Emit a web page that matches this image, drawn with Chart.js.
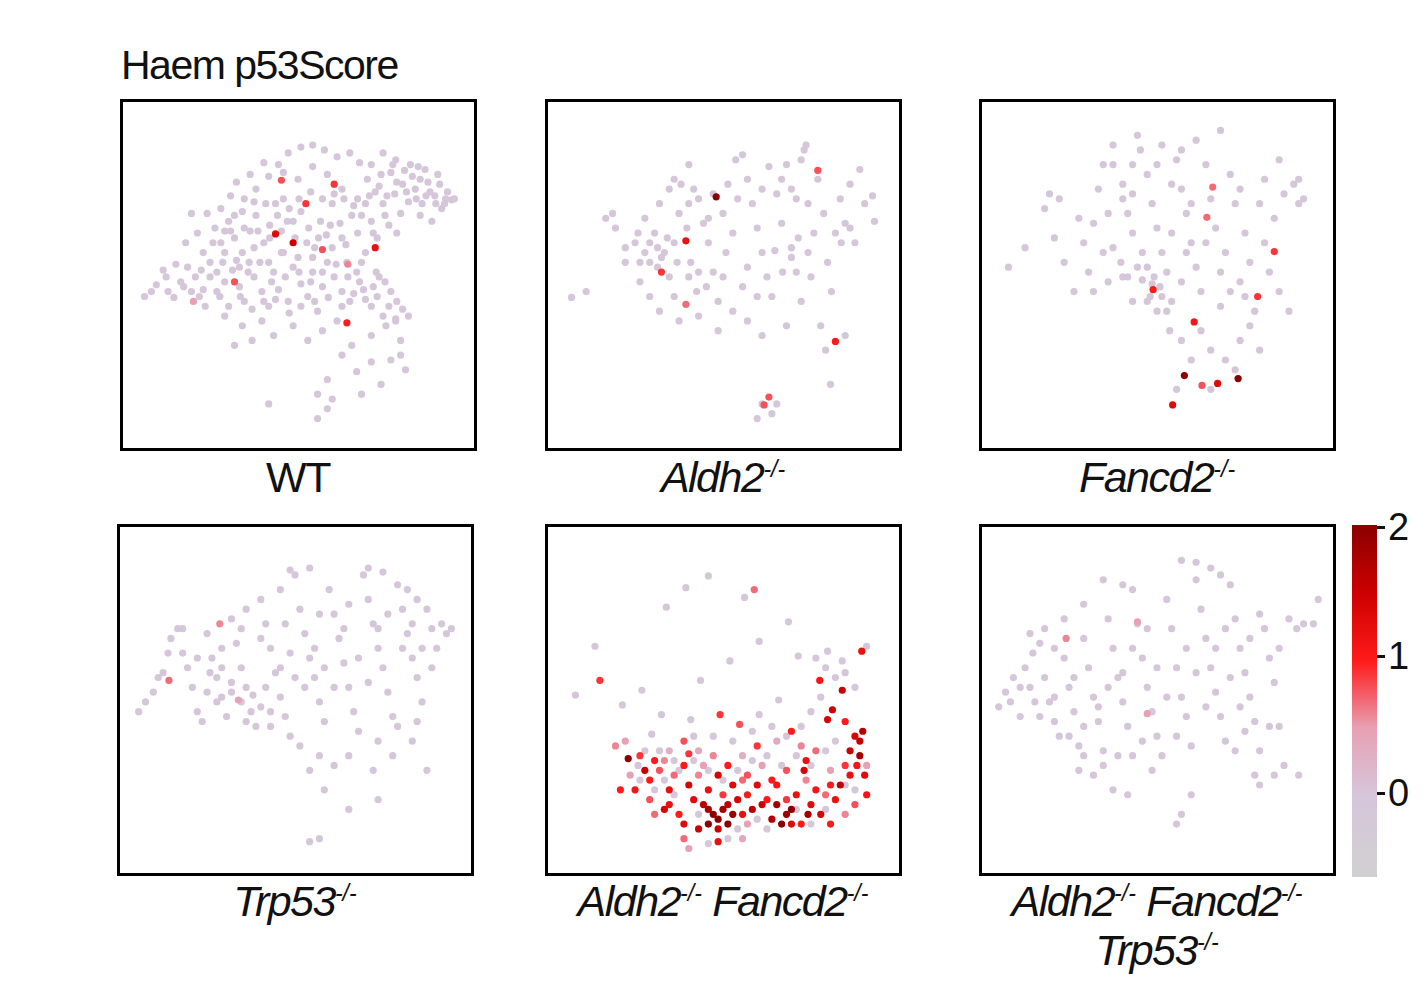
<!DOCTYPE html>
<html>
<head>
<meta charset="utf-8">
<script src="https://cdn.jsdelivr.net/npm/chart.js@4"></script>
<style>
  body { margin: 0; background: #fff; font-family: "Liberation Sans", Arial, sans-serif; }
  #page { position: relative; width: 1426px; height: 984px; }
  .panel { position: absolute; width: 351px; height: 346px; border: 3px solid #000; box-sizing: content-box; }
  .panel canvas { position: absolute; left: 0; top: 0; }
  .lab { position: absolute; width: 500px; text-align: center; font-size: 43px; letter-spacing: -1.5px; color: #111; }
  .lab sup { font-size: 23px; letter-spacing: 0; }
  #title { position: absolute; left: 121px; top: 42px; font-size: 41px; letter-spacing: -1.5px; color: #111; }
  #cbar { position: absolute; left: 1352px; top: 525px; width: 25px; height: 352px; }
  .tick { position: absolute; left: 1377px; font-size: 38px; line-height: 38px; color: #111; }
  .tick::before { content: ""; position: absolute; left: 0; top: 18px; width: 8px; height: 3px; background: #111; }
  .tick span { margin-left: 11px; }
</style>
</head>
<body>
<div id="page">
  <div id="title">Haem p53Score</div>
  <div id="cbar"></div>
  <div class="tick" style="top:508px"><span>2</span></div>
  <div class="tick" style="top:637px"><span>1</span></div>
  <div class="tick" style="top:774px"><span>0</span></div>
</div>
<script>
// ── Data (panel-local UMAP coords, "x,y" or "x,y,score") ──────────
const panelNames = ["WT", "<i>Aldh2<sup>-/-</sup></i>", "<i>Fancd2<sup>-/-</sup></i>",
  "<i>Trp53<sup>-/-</sup></i>", "<i>Aldh2<sup>-/-</sup> Fancd2<sup>-/-</sup></i>",
  "<i>Aldh2<sup>-/-</sup> Fancd2<sup>-/-</sup><br>Trp53<sup>-/-</sup></i>"];

const wtPts = "37,168 42,190 30,183 55,180 62,165 70,175 48,196 85,160 78,188 92,170 95,195 100,150 108,168 115,185 120,200 125,160 130,175 138,190 145,205 150,170 155,188 160,150 165,200 170,165 178,182 185,195 190,170 195,210 200,185 205,160 212,175 220,190 228,200 235,170 242,188 250,205 258,175 262,215 270,190 275,220 282,208 82,110 90,125 96,140 104,118 110,135 118,150 126,128 132,112 140,140 146,122 152,100 158,150 164,118 172,135 178,108 186,125 192,145 198,118 204,132 210,100 218,120 224,142 230,112 236,130 244,150 250,118 256,135 262,100 268,122 274,90 280,110 288,98 295,85 302,100 308,78 315,92 322,105 328,88 332,96 318,70 305,65 292,72 282,80 270,68 258,82 246,75 238,58 228,48 215,52 202,45 190,40 178,42 165,48 155,60 145,72 132,85 120,95 106,92 96,105 112,78 126,70 140,58 160,68 175,75 190,62 205,70 220,85 236,95 250,60 262,48 275,55 290,60 300,112 312,118 325,100 335,95 60,140 72,130 78,150 66,110 50,162 40,175 25,190 18,195 80,205 100,215 118,225 138,220 150,235 170,225 185,240 200,230 215,220 230,245 250,235 265,225 275,218 280,240 270,260 285,270 250,262 235,272 220,255 205,280 195,295 210,300 240,295 260,285 280,255 145,305 110,245 128,240 195,320 205,310 288,215 160,95 175,155 190,155 210,145 225,160 240,160 255,170 145,160 130,145 115,165 100,180 85,175 " +
  "300,75 310,88 320,80 326,95 316,100 306,92 296,95 286,88 276,78 266,92 254,88 244,100 232,102 222,95 212,90 200,95 188,88 176,95 166,105 154,112 142,100 130,98 118,108 106,128 98,160 112,158 124,170 136,160 148,180 162,175 176,170 188,180 200,170 214,162 226,175 238,180 252,185 264,180 276,200 268,205 256,195 244,198 232,192 220,205 206,196 192,200 178,205 166,212 152,198 140,200 128,208 116,195 104,205 92,190 74,195 58,185 298,62 284,66 272,60 260,70 248,92 240,112 252,130 264,112 276,130 220,135 208,122 196,135 184,140 170,118 158,128 146,135 134,128 120,125 110,112 100,128 88,140 76,168 66,190 " +
  "158,76,0.8 152,131,1.3 170,140,1.5 212,80,0.9 183,100,0.9 200,147,0.8 254,145,1.2 225,222,1.0 110,180,0.8 226,162,0.6 68,200,0.5";

const aldhPts = "20,196 35,190 55,115 62,110 75,145 85,140 95,150 100,160 105,130 108,165 115,150 120,175 125,140 130,110 138,125 142,160 148,190 150,95 155,120 160,140 165,170 170,200 175,110 180,80 185,130 188,55 195,50 200,75 205,100 210,125 215,150 220,175 225,195 230,90 235,120 240,60 245,145 250,170 255,200 258,45 262,100 268,130 272,75 278,110 282,160 286,190 290,130 295,95 300,120 305,80 310,140 315,65 320,100 328,92 330,118 260,40 255,55 245,85 132,80 140,60 120,85 110,100 95,115 88,130 100,195 110,210 130,220 150,215 170,230 185,210 200,220 215,235 240,225 275,225 280,250 300,235 285,285 245,155 228,148 222,62 190,95 178,150 160,115 125,195 90,180 75,160 65,125 230,305 225,315 210,320 215,305 125,75 145,85 200,165 265,175 175,175 150,170 " +
  "100,140 108,145 112,155 118,135 128,160 140,175 158,185 195,185 210,195 236,170 252,135 262,150 296,140 305,125 250,95 235,75 215,85 165,90 140,100 90,160 " +
  "168,93,2 137,138,1.2 112,170,0.9 222,298,0.8 217,306,0.8 290,241,1.0 272,66,0.8 137,203,0.7";

const fancPts = "23,165 40,145 65,90 75,95 70,135 80,160 95,115 100,140 105,170 110,190 115,85 120,60 125,110 130,145 138,160 145,175 150,130 155,30 158,45 165,70 170,100 175,125 180,150 185,170 190,200 195,55 200,85 205,110 210,140 215,165 220,190 225,60 230,95 235,125 240,25 245,150 250,70 255,100 260,180 265,130 270,160 275,210 280,100 285,140 290,170 295,115 300,190 305,90 310,210 315,80 320,100 325,95 320,75 140,80 130,60 160,150 165,165 172,175 178,185 168,195 175,210 150,200 140,175 120,150 110,120 150,90 188,230 200,240 220,230 230,250 245,260 260,240 270,225 280,250 210,260 195,290 230,290 255,270 130,40 180,40 200,45 215,35 145,110 190,130 205,150 260,85 285,75 300,55 60,105 125,180 90,190 240,205 " +
  "155,165 160,178 170,182 165,200 180,195 185,210 200,180 225,140 240,170 250,190 265,195 210,100 190,80 175,60 150,60 140,95 " +
  "203,276,2 258,279,2 237,284,1.3 191,306,1.3 221,286,0.8 213,221,1.1 171,188,1.0 278,195,0.9 295,149,0.9 232,83,0.7 226,114,0.7";

const trpPts = "15,185 22,175 30,165 40,145 48,110 55,100 60,125 65,140 70,160 75,185 80,195 85,105 90,130 95,150 100,170 105,190 110,90 115,115 120,140 125,160 130,185 135,200 140,70 145,95 150,120 155,145 160,170 165,190 170,210 175,45 180,80 185,105 190,130 195,150 200,175 205,195 210,60 215,85 220,110 225,135 230,160 235,185 240,205 245,45 250,70 255,95 260,120 265,140 270,165 275,190 280,55 285,80 290,105 295,130 300,150 305,175 310,80 315,100 320,120 325,95 330,105 335,100 170,40 190,38 250,38 265,42 290,60 300,70 60,100 45,125 35,150 180,220 200,230 190,245 215,240 205,265 230,230 260,215 275,230 255,245 280,200 300,195 310,245 295,215 260,275 230,285 200,315 190,318 175,150 140,180 110,165 85,165 100,120 125,80 160,60 150,200 125,195 " +
  "75,130 88,145 100,140 110,155 120,175 132,168 145,160 150,185 160,140 170,125 185,160 195,120 205,140 215,160 225,100 240,130 250,155 260,100 270,85 285,120 295,95 305,120 315,140 230,75 200,85 165,95 140,110 120,100 95,175 " +
  "98,95,0.6 46,153,0.7 117,173,0.5";

const dkoPts = "117,78 137,58 160,46 207,60,0.7 197,68 44,118 24,168 49,153,0.9 72,178 92,163 112,188 152,153 182,133 212,113 242,93 252,128 282,123 297,133 322,118 317,123,1.2 274,153,1.1 297,163,1.5 287,183,1.5 282,193,1.4 232,173 212,188 192,198,0.8 172,188,0.9 142,193 102,208 " +
  "65,220,0.6 78,233,2 95,245,1.5 100,255,1.0 110,245,0.8 120,265,1.2 125,250,0.7 135,240,1.0 140,260,1.4 145,275,1.3 150,250,0.6 155,280,1.6 160,265,1.2 165,290,2 170,295,2 175,285,1.8 180,300,2 185,290,1.9 170,305,1.5 190,275,1.4 195,255,0.7 200,270,1.0 205,285,1.6 210,260,1.3 215,240,0.5 220,275,1.0 225,295,1.7 230,280,1.8 235,300,2 240,290,1.9 245,285,2 250,270,1.2 255,300,1.0 260,255,0.6 265,280,1.3 270,265,1.1 275,290,1.4 280,270,0.7 285,245,0.5 290,275,1.2 295,260,1.6 300,240,0.9 305,225,1.5 310,210,1.4 315,230,1.8 320,250,1.3 322,270,1.1 310,280,0.8 300,290,0.6 270,225,0.7 255,220,0.6 245,205,1.0 230,215,0.4 210,220,0.9 195,230,0.3 180,240,1.0 165,230,0.6 150,225,0.4 135,215,0.8 120,225,0.3 105,235,1.0 90,230,0.9 80,250,0.5 85,265,1.1 100,275,0.8 115,285,1.4 130,290,1.0 135,315,0.7 140,325,0.5 195,315,0.4 170,318,1.2 200,300,0.5 285,300,1.0 260,235,1.2 300,195,1.0 315,215,1.6 322,240,0.5 75,215,0.5 70,265,1.0 155,240,0.5 240,245,0.8 225,255,1.0 185,260,1.3 160,300,2 150,305,1.5 175,270,0.9 " +
  "270,130 280,140 290,150 300,145 310,160 275,170 265,185 255,200 240,210 225,200 205,205 185,215 165,210 145,210 125,235 110,225 95,225 88,240 115,255 130,245 145,235 160,245 175,255 190,245 205,235 220,230 235,240 250,230 265,240 280,225 290,215 300,260 310,265 280,285 265,300 250,285 220,305 210,295 190,305 180,315 160,320 150,290 125,270 105,265 90,255 " +
  "115,235,0.6 140,228,0.9 170,250,1.4 200,250,0.8 230,260,1.1 258,245,1.4 285,260,1.0 305,250,1.2 318,205,1.7 312,240,1.1 160,285,1.8 180,280,1.6 195,290,1.2 215,280,1.5 240,275,0.9 262,290,1.8 245,300,1.3 120,280,1.2 105,290,0.7 135,300,1.3";

const tkoPts = "13,180 20,165 28,150 35,160 40,140 48,125 55,115 60,150 65,175 70,195 75,210 80,130 85,160 90,185 95,220 100,110 105,140 110,170 115,195 120,225 125,90 130,120 135,150 140,175 145,200 150,60 155,95 160,130 165,160 170,185 175,210 180,230 185,70 190,100 195,140 200,170 205,190 210,220 215,50 220,80 225,110 230,140 235,165 240,190 245,215 250,55 255,90 260,120 265,145 270,170 275,195 280,225 285,100 290,130 295,155 300,200 305,240 310,90 318,100 325,95 335,95 340,70 275,250 280,260 295,250 320,250 210,270 200,290 195,300 145,270 110,250 95,245 130,265 170,245 50,175 35,190 120,50 140,55 200,30 215,32 230,38 240,45 80,90 100,75 60,100 45,105 160,215 255,225 265,205 " +
  "25,175 45,160 55,190 70,170 85,210 100,200 115,180 125,160 140,145 150,120 165,100 175,140 185,170 195,210 205,120 215,145 225,180 235,120 245,100 250,150 260,180 270,110 280,85 290,200 300,120 150,230 135,230 120,240 100,230 90,150 70,120 " +
  "82,110,0.6 155,93,0.5 165,187,0.5";

// panel box positions (left, top) and label top
const panelPos = [[123,102],[548,102],[982,102],[120,527],[548,527],[982,527]];
const labelTop = [453,453,453,877,877,877];
const panelData = [wtPts, aldhPts, fancPts, trpPts, dkoPts, tkoPts];

// colour scale stops
const cStops = [[-0.6,[208,208,208]],[0,[214,198,218]],[0.5,[232,160,180]],[1,[255,26,26]],[1.5,[204,0,0]],[2,[139,0,0]]];

function colorOf(v) {
  for (let i = 1; i < cStops.length; i++) {
    if (v <= cStops[i][0]) {
      const [a, ca] = cStops[i-1], [b, cb] = cStops[i];
      const t = (v - a) / (b - a);
      return `rgb(${ca.map((c, k) => Math.round(c + (cb[k] - c) * t)).join(",")})`;
    }
  }
  return "rgb(139,0,0)";
}

function parse(s) {
  return s.trim().split(/\s+/).map(p => {
    const [x, y, v] = p.split(",").map(Number);
    return { x, y, v: v || 0 };
  }).sort((a, b) => a.v - b.v);
}

// ── Colour bar ───────────────────────────────────────────
document.getElementById("cbar").style.background = "linear-gradient(to top, " +
  cStops.map(([v, c]) => `rgb(${c.join(",")}) ${((v + 0.6) / 2.6 * 100).toFixed(1)}%`).join(", ") + ")";

// ── Panels ────────────────────────────────────────────────
const page = document.getElementById("page");
panelData.forEach((str, i) => {
  const [left, top] = panelPos[i];
  const box = document.createElement("div");
  box.className = "panel";
  box.style.left = (left - 3) + "px";
  box.style.top = (top - 3) + "px";
  box.innerHTML = `<canvas width="351" height="346"></canvas>`;
  page.appendChild(box);

  const lab = document.createElement("div");
  lab.className = "lab";
  lab.style.left = (left + 175 - 250) + "px";
  lab.style.top = labelTop[i] + "px";
  lab.innerHTML = panelNames[i];
  page.appendChild(lab);

  const pts = parse(str);
  new Chart(box.querySelector("canvas"), {
    type: "scatter",
    data: { datasets: [{
      data: pts,
      pointRadius: 3.6,
      pointBorderWidth: 0,
      pointBackgroundColor: pts.map(p => colorOf(p.v)),
    }] },
    options: {
      responsive: false,
      animation: false,
      layout: { padding: 0 },
      plugins: { legend: { display: false }, tooltip: { enabled: false } },
      scales: {
        x: { display: false, min: 0, max: 351 },
        y: { display: false, min: 0, max: 346, reverse: true },
      },
    },
  });
});
</script>
</body>
</html>
